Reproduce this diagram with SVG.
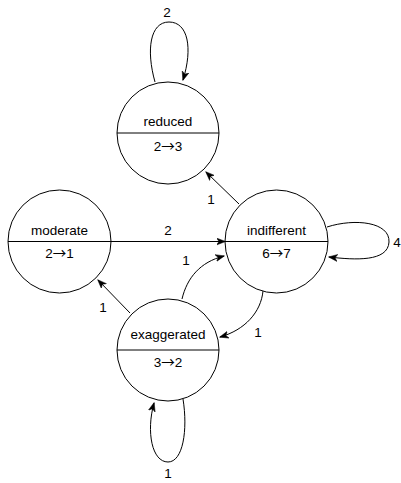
<svg xmlns="http://www.w3.org/2000/svg" width="401" height="483" viewBox="0 0 401 483">
  <style>
    .state circle { fill: #ffffff; stroke: #000000; stroke-width: 1; }
    .state line { stroke: #000000; stroke-width: 1; }
    text { font-family: "Liberation Sans", Arial, Helvetica, sans-serif; font-size: 13.5px; fill: #000000; text-anchor: middle; }
    .arr { font-family: "Noto Sans CJK JP", "DejaVu Sans", sans-serif; font-size: 13.5px; }
    .edge { fill: none; stroke: #000000; stroke-width: 1; marker-end: url(#arrow); }
  </style>
  <defs>
    <marker id="arrow" markerWidth="10" markerHeight="8" refX="8.5" refY="4" orient="auto" markerUnits="userSpaceOnUse">
      <path d="M0,0.5 L9,4 L0,7.5 L2.5,4 Z" fill="#000000" stroke="#000000" stroke-width="0.5" stroke-linejoin="miter"/>
    </marker>
  </defs>

  <!-- transitions -->
  <g id="connectors">
    <path class="edge" d="M155,82 C146,50 150,22 169,22 C188,22 193,48 183,80"/>
    <text x="167" y="17">2</text>

    <path class="edge" d="M239,204 L206,172"/>
    <text x="211" y="204">1</text>

    <path class="edge" d="M111,241.5 L225,241.5"/>
    <text x="168" y="235">2</text>

    <path class="edge" d="M327,227 C355,218 390,222 389,242 C388,262 355,260 329,257"/>
    <text x="397" y="247">4</text>

    <path class="edge" d="M182,299 C187,278 200,262 224,256"/>
    <text x="186" y="265">1</text>

    <path class="edge" d="M263,291 C261,312 245,330 220,337"/>
    <text x="258" y="337">1</text>

    <path class="edge" d="M130,313 L98,280"/>
    <text x="103" y="312">1</text>

    <path class="edge" d="M183,399 C188,430 183,462 168,462 C152,462 146,432 154,403"/>
    <text x="168" y="478">1</text>
  </g>

  <!-- states -->
  <g id="reduced" class="state">
    <circle cx="168" cy="133" r="51"/>
    <line x1="117" y1="133" x2="219" y2="133"/>
    <text x="168" y="126">reduced</text>
    <text x="168" y="151">2<tspan class="arr">→</tspan>3</text>
  </g>

  <g id="moderate" class="state">
    <circle cx="59.5" cy="241.5" r="51.5"/>
    <line x1="8" y1="241.5" x2="111" y2="241.5"/>
    <text x="59.5" y="235">moderate</text>
    <text x="59.5" y="258">2<tspan class="arr">→</tspan>1</text>
  </g>

  <g id="indifferent" class="state">
    <circle cx="276.5" cy="241.5" r="51.5"/>
    <line x1="225" y1="241.5" x2="328" y2="241.5"/>
    <text x="276.5" y="235">indifferent</text>
    <text x="276.5" y="258">6<tspan class="arr">→</tspan>7</text>
  </g>

  <g id="exaggerated" class="state">
    <circle cx="168" cy="350" r="51"/>
    <line x1="117" y1="350" x2="219" y2="350"/>
    <text x="168" y="339">exaggerated</text>
    <text x="168" y="367">3<tspan class="arr">→</tspan>2</text>
  </g>
</svg>
